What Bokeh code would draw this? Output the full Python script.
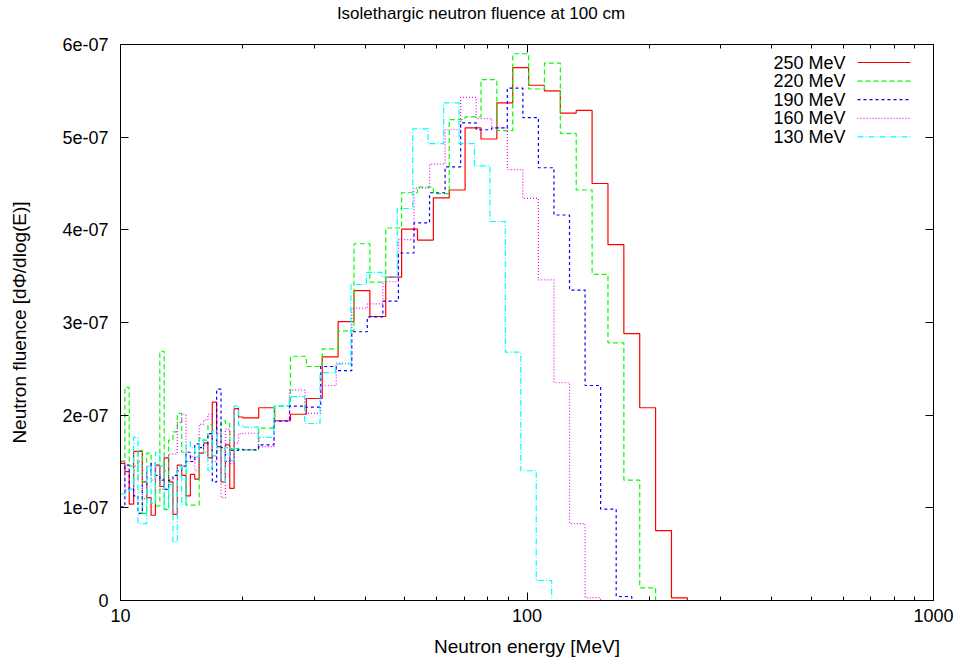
import numpy as np
from bokeh.plotting import figure
from bokeh.models import Range1d, FixedTicker, LinearAxis, LogAxis
from bokeh.embed import file_html
from bokeh.resources import INLINE
from bokeh.core.properties import value

FONT = "Liberation Sans"
FS_TITLE = "17px"
FS_TICK = "18px"
FS_LABEL = "19px"
FS_LEG = "18px"

# ---------------- data (fluence in units of 1e-07) ----------------
# low-energy neutron groups: 28 log bins between 10 and 20 MeV
FINE_LO, FINE_HI, FINE_N = 10.0, 20.0, 28
# high-energy log bins start at 20 MeV; (top edge MeV, number of bins) per run
COARSE_LO = 20.0
grid_250 = (248.0, 28)
grid_220 = (248.0, 28)
grid_190 = (181.0, 25)
grid_160 = (181.0, 25)
grid_130 = (115.0, 20)

title_text = "Isolethargic neutron fluence at 100 cm"
labels = ["250 MeV", "220 MeV", "190 MeV", "160 MeV", "130 MeV"]
colors = ["#ff0000", "#00ff00", "#0000ff", "#ff00ff", "#00ffff"]
dashes = ["solid", "5 3", "3 3", "1 2", "6 2 1 2"]

fine_250 = [1.48, 1.39, 1.04, 1.61, 1.61, 1.28, 1.11, 0.92, 1.46, 1.23, 1.54, 1.28, 0.93, 1.46,
            1.35, 1.13, 1.36, 1.31, 1.59, 1.70, 1.54, 2.14, 1.66, 1.28, 1.68, 1.21, 2.07, 1.98]
coarse_250 = [1.97, 2.08, 1.94, 2.01, 2.18, 2.63, 3.01, 3.345, 3.065, 3.49, 4.007, 3.89, 4.345, 4.43,
              5.10, 4.98, 5.37, 5.75, 5.56, 5.50, 5.26, 5.29, 4.50, 3.84, 2.88, 2.08, 0.755, 0.029]

fine_220 = [1.50, 2.30, 1.45, 1.30, 1.62, 0.94, 1.59, 1.35, 1.02, 2.69, 0.98, 1.73, 1.82, 2.02,
            1.60, 1.03, 1.03, 1.03, 1.75, 1.73, 1.90, 1.56, 1.62, 1.94, 1.91, 1.64, 1.64, 1.63]
coarse_220 = [1.626, 1.86, 2.097, 2.636, 2.525, 2.716, 2.91, 3.85, 3.435, 4.02, 4.40, 4.46, 4.39, 5.19,
              5.22, 5.62, 5.07, 5.90, 5.52, 5.80, 5.04, 4.43, 3.52, 2.78, 1.30, 0.137]

fine_190 = [1.01, 1.46, 1.20, 1.13, 0.94, 1.25, 1.40, 1.48, 1.35, 1.30, 1.20, 1.30, 1.35, 1.40,
            1.45, 1.60, 1.50, 1.69, 1.65, 1.69, 1.80, 1.28, 2.28, 1.65, 1.50, 1.62, 1.62, 1.63]
coarse_190 = [1.626, 1.68, 1.935, 2.097, 2.086, 2.525, 2.48, 2.90, 3.06, 3.23, 3.75, 4.075, 4.40,
              4.68, 5.155, 5.08, 5.10, 5.53, 5.21, 4.67, 4.16, 3.35, 2.32, 0.985, 0.043]

fine_160 = [1.51, 1.20, 1.20, 1.45, 1.50, 1.10, 1.45, 1.30, 1.45, 1.20, 1.40, 1.58, 1.58, 1.92,
            2.01, 1.50, 1.55, 1.40, 1.90, 1.95, 2.01, 1.50, 1.80, 1.11, 1.85, 1.48, 1.70, 1.80]
coarse_160 = [1.805, 1.66, 1.94, 2.27, 2.02, 2.32, 2.56, 3.155, 3.20, 3.44, 3.895, 4.45, 4.71,
              5.08, 5.43, 5.20, 5.10, 4.65, 4.34, 3.46, 2.35, 0.83, 0.03]

fine_130 = [1.15, 1.18, 1.20, 1.76, 0.83, 0.83, 1.45, 1.05, 1.60, 1.45, 0.99, 1.25, 0.63, 1.45,
            1.04, 1.71, 1.65, 1.55, 1.73, 1.60, 1.40, 1.83, 1.65, 1.28, 1.65, 1.51, 2.10, 1.89]
coarse_130 = [1.87, 1.76, 2.10, 2.20, 1.91, 2.46, 2.55, 3.41, 3.54, 3.49, 4.23, 5.09, 4.93, 5.37,
              4.93, 4.69, 4.09, 2.68, 1.40, 0.216]

y_ticks = [0, 1, 2, 3, 4, 5, 6]
y_tick_labels = ["0", "1e-07", "2e-07", "3e-07", "4e-07", "5e-07", "6e-07"]
x_ticks = [10, 100, 1000]
x_tick_labels = ["10", "100", "1000"]
x_minor = [20, 30, 40, 50, 60, 70, 80, 90, 200, 300, 400, 500, 600, 700, 800, 900]

X0, X1, Y0, Y1 = 10, 1000, 0, 6

# ---------------- figure ----------------
p = figure(width=961, height=663, x_axis_type="log",
           x_range=Range1d(X0, X1), y_range=Range1d(Y0, Y1),
           output_backend="svg", toolbar_location=None,
           min_border_left=120, min_border_right=28, min_border_top=44, min_border_bottom=63)
p.background_fill_color = "white"
p.border_fill_color = "white"
p.outline_line_color = "black"
p.outline_line_width = 1
p.xgrid.visible = False
p.ygrid.visible = False

def style_axis(ax, show_labels):
    ax.axis_line_color = "black"
    ax.major_tick_line_color = "black"
    ax.minor_tick_line_color = "black"
    ax.major_tick_in = 8
    ax.major_tick_out = 0
    ax.minor_tick_in = 4
    ax.minor_tick_out = 0
    ax.major_label_text_font = FONT
    ax.axis_label_text_font = FONT
    ax.axis_label_text_font_size = FS_LABEL
    ax.axis_label_text_font_style = "normal"
    ax.axis_label_text_color = "black"
    if show_labels:
        ax.major_label_text_font_size = FS_TICK
        ax.major_label_text_color = "black"
    else:
        ax.major_label_text_font_size = "1px"
        ax.major_label_text_color = None
        ax.major_label_standoff = 0

xa = p.xaxis[0]
xa.ticker = FixedTicker(ticks=x_ticks, minor_ticks=x_minor)
xa.major_label_overrides = {t: l for t, l in zip(x_ticks, x_tick_labels)}
xa.axis_label = "Neutron energy [MeV]"
style_axis(xa, True)
xa.major_label_standoff = 8
xa.axis_label_standoff = 11

ya = p.yaxis[0]
ya.ticker = FixedTicker(ticks=y_ticks, minor_ticks=[])
ya.major_label_overrides = {t: l for t, l in zip(y_ticks, y_tick_labels)}
ya.axis_label = "Neutron fluence [dΦ/dlog(E)]"
style_axis(ya, True)
ya.major_label_standoff = 12
ya.axis_label_standoff = 29

# mirrored ticks on top and right
top = LogAxis(ticker=FixedTicker(ticks=x_ticks, minor_ticks=x_minor))
style_axis(top, False)
p.add_layout(top, "above")
right = LinearAxis(ticker=FixedTicker(ticks=y_ticks, minor_ticks=[]))
style_axis(right, False)
p.add_layout(right, "right")

# ---------------- screen-pixel helper for annotation placement ----------------
FRAME_L, FRAME_W, FRAME_T, FRAME_H = 120, 813, 44, 556
def dx(px):
    return 10 ** (np.log10(X0) + (px - FRAME_L) / FRAME_W * (np.log10(X1) - np.log10(X0)))
def dy(py):
    return Y1 - (py - FRAME_T) / FRAME_H * (Y1 - Y0)

# title: centred on the whole canvas (not on the frame), carried by an unlined top axis
title_pos = dx(480.5)
title_axis = LogAxis(ticker=FixedTicker(ticks=[title_pos], minor_ticks=[]))
title_axis.major_label_overrides = {title_pos: title_text}
title_axis.axis_line_color = None
title_axis.major_tick_line_color = None
title_axis.minor_tick_line_color = None
title_axis.major_tick_in = 0
title_axis.major_tick_out = 0
title_axis.major_label_standoff = 22
title_axis.major_label_text_font = FONT
title_axis.major_label_text_font_size = FS_TITLE
title_axis.major_label_text_color = "black"
p.add_layout(title_axis, "above")

# ---------------- histograms ----------------
fine_edges = np.geomspace(FINE_LO, FINE_HI, FINE_N + 1)

def step_xy(fine, coarse, grid):
    top_e, nb = grid
    coarse_edges = np.geomspace(COARSE_LO, top_e, nb + 1)
    edges = np.concatenate([fine_edges, coarse_edges[1:len(coarse) + 1]])
    vals = list(fine) + list(coarse)
    xs = list(edges) + [X1]
    ys = vals + [0.0, 0.0]
    return xs, ys

runs = [(fine_250, coarse_250, grid_250), (fine_220, coarse_220, grid_220),
        (fine_190, coarse_190, grid_190), (fine_160, coarse_160, grid_160),
        (fine_130, coarse_130, grid_130)]

for (fine, coarse, grid), c, d in zip(runs, colors, dashes):
    xs, ys = step_xy(fine, coarse, grid)
    p.step(xs, ys, mode="after", line_color=c, line_width=1.2, line_dash=d)

# legend (top right, text left of sample)
for i, (lab, c, d) in enumerate(zip(labels, colors, dashes)):
    ry = 62 + 18.6 * i
    p.text(x=[dx(845)], y=[dy(ry)], text=[lab], text_align="right", text_baseline="middle",
           text_font=value(FONT), text_font_size=FS_LEG, text_color="black")
    p.line(x=[dx(857), dx(910)], y=[dy(ry), dy(ry)], line_color=c, line_width=1.2, line_dash=d)

open("out.html", "w").write(file_html(p, INLINE))
